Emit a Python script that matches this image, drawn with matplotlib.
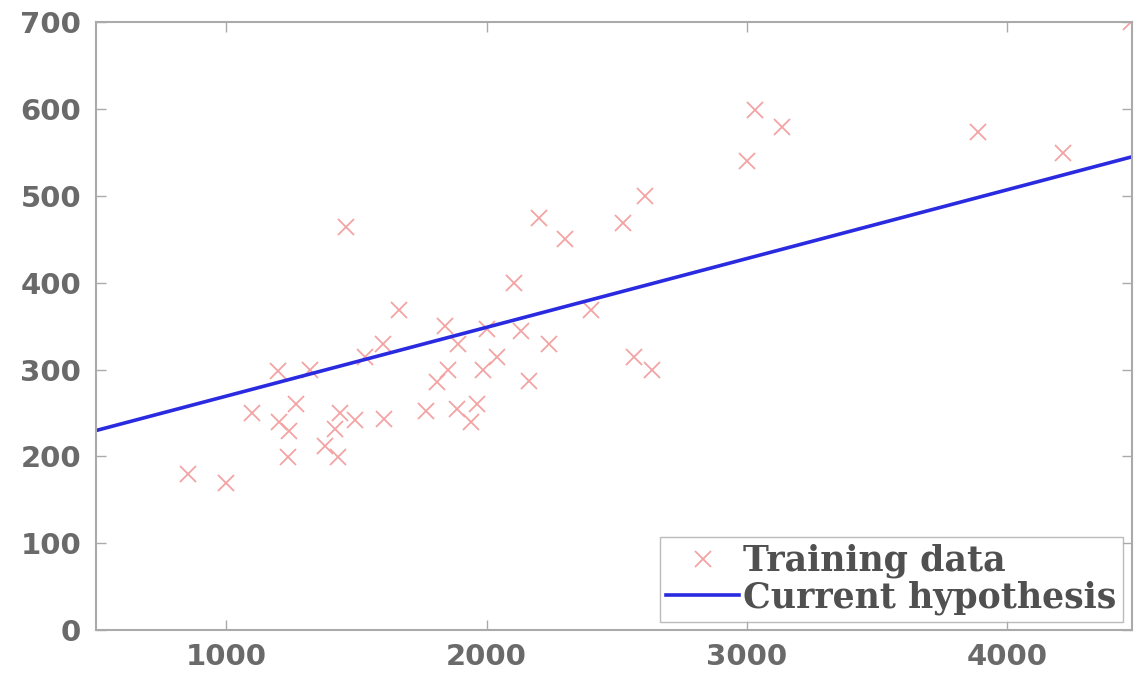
import matplotlib
matplotlib.use("Agg")
import matplotlib.pyplot as plt

# house size (sq ft) and price (1000s of $)
size = [2104, 1600, 2400, 1416, 3000, 1985, 1534, 1427, 1380, 1494, 1940, 2000,
        1890, 4478, 1268, 2300, 1320, 1236, 2609, 3031, 1767, 1888, 1604, 1962,
        3890, 1100, 1458, 2526, 2200, 2637, 1839, 1000, 2040, 3137, 1811, 1437,
        1239, 2132, 4215, 2162, 1664, 2238, 2567, 1200, 852, 1852, 1203]
price = [399.9, 329.9, 369, 232, 539.9, 299.9, 314.9, 199, 212, 242.5, 240, 347,
         330, 699.9, 259.9, 449.9, 299.9, 199.9, 500, 599, 252.9, 255, 242.9, 259.9,
         573.9, 249.9, 464.5, 469, 475, 299.9, 349.9, 169.9, 314.9, 579.9, 285.9, 249.9,
         229.9, 345, 549, 287, 368.5, 329.9, 314, 299, 179.9, 299.9, 239.5]

# current hypothesis line end points
hyp_x = [500, 4480]
hyp_y = [230, 545]

xticks = [1000, 2000, 3000, 4000]
yticks = [0, 100, 200, 300, 400, 500, 600, 700]

fig = plt.figure(figsize=(11.34, 6.74), dpi=100)
ax = fig.add_axes([0.085, 0.065, 0.913, 0.902])

ax.plot(size, price, 'x', color='#f3a3a3', markersize=11, markeredgewidth=1.3,
        label='Training data')
ax.plot(hyp_x, hyp_y, '-', color='#2a2ae0', linewidth=2.6, label='Current hypothesis')

ax.set_xlim(500, 4480)
ax.set_ylim(0, 700)
ax.set_xticks(xticks)
ax.set_yticks(yticks)
ax.tick_params(direction='in', length=7, width=1, color='#aaaaaa',
               top=True, right=True, labelsize=21, labelcolor='#6a6a6a')
ax.tick_params(axis='y', pad=11)
ax.tick_params(axis='x', pad=9)
for lab in ax.get_xticklabels() + ax.get_yticklabels():
    lab.set_fontweight('bold')
for sp in ax.spines.values():
    sp.set_color('#aaaaaa')
    sp.set_linewidth(1.5)

leg = ax.legend(loc='lower right',
                prop={'family': 'DejaVu Serif', 'size': 25, 'weight': 'bold'},
                frameon=True, fancybox=False, edgecolor='#aaaaaa',
                handlelength=2.1, handletextpad=0.1, borderpad=0.2,
                labelspacing=0.05, borderaxespad=0.25)
for t in leg.get_texts():
    t.set_color('#505050')

fig.savefig('out.png', dpi=100)
